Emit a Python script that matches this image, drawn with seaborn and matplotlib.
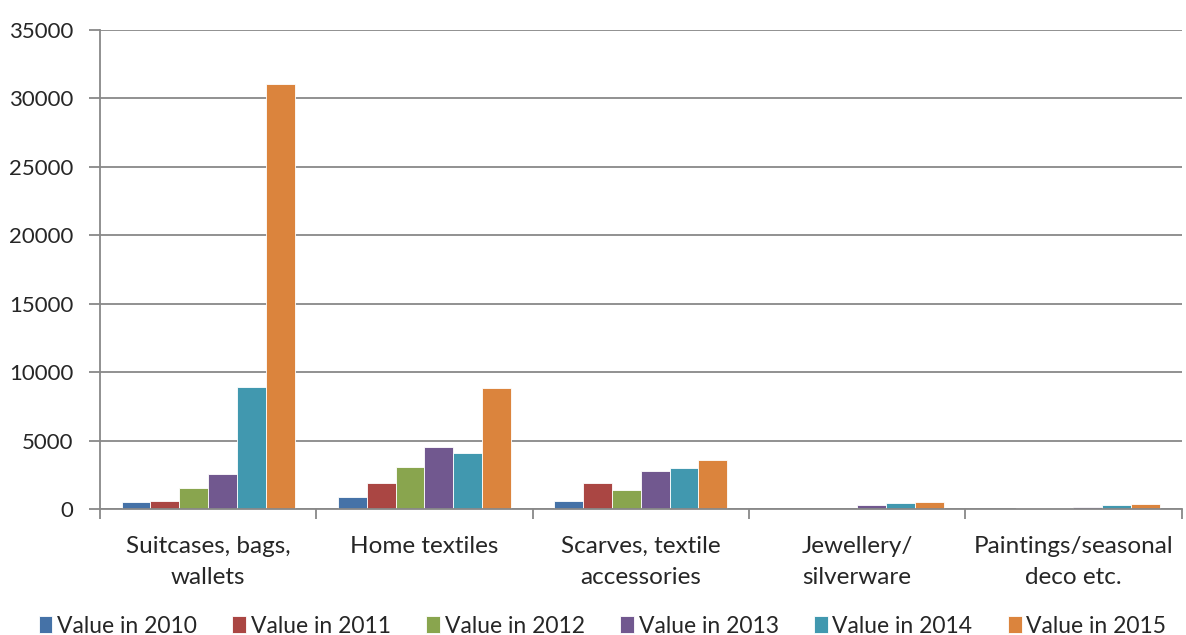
import matplotlib
matplotlib.use("Agg")
import matplotlib.pyplot as plt
import seaborn as sns
import pandas as pd
import numpy as np

categories = ["Suitcases, bags,\nwallets", "Home textiles", "Scarves, textile\naccessories",
              "Jewellery/\nsilverware", "Paintings/seasonal\ndeco etc."]
series_names = ["Value in 2010", "Value in 2011", "Value in 2012", "Value in 2013",
                "Value in 2014", "Value in 2015"]
v2010 = [510, 900, 640, 0, 0]
v2011 = [600, 1900, 1950, 0, 120]
v2012 = [1530, 3070, 1390, 10, 70]
v2013 = [2610, 4580, 2830, 340, 200]
v2014 = [8900, 4090, 3000, 490, 340]
v2015 = [31060, 8840, 3630, 510, 420]
colors = ["#4572A7", "#AA4643", "#89A54E", "#71588F", "#4198AF", "#DB843D"]

rows = []
for name, vals in zip(series_names, [v2010, v2011, v2012, v2013, v2014, v2015]):
    for c, v in zip(categories, vals):
        rows.append({"category": c, "series": name, "value": v})
df = pd.DataFrame(rows)

sns.set_style("white")
plt.rcParams['font.family'] = ['Lato', 'DejaVu Sans']

fig = plt.figure(figsize=(11.86, 6.35), dpi=100)
ax = fig.add_axes([0.0843, 0.198, 0.912, 0.755])
sns.barplot(data=df, x="category", y="value", hue="series", palette=colors,
            width=0.8, gap=0, ax=ax, edgecolor="white", linewidth=0.6, saturation=1)

ax.set_ylim(0, 35000)
ax.set_yticks(np.arange(0, 35001, 5000))
ax.set_xlim(-0.5, len(categories) - 0.5)
ax.yaxis.grid(True, color="#888888", linewidth=1.3)
ax.set_axisbelow(True)
for s in ["top", "right"]:
    ax.spines[s].set_visible(False)
for s in ["left", "bottom"]:
    ax.spines[s].set_color("#888888")
    ax.spines[s].set_linewidth(1.3)
ax.set_xlabel("")
ax.set_ylabel("")
ax.tick_params(axis="y", labelsize=16, length=8, color="#888888", width=1.3, left=True, pad=11)
ax.tick_params(axis="x", which="major", labelsize=17.5, length=0, pad=19)
ax.set_xticks(np.arange(-0.5, len(categories)), minor=True)
ax.tick_params(axis="x", which="minor", length=7, color="#888888", width=1.3, bottom=True)
for t in ax.get_xticklabels():
    t.set_linespacing(1.6)

handles, labels = ax.get_legend_handles_labels()
ax.legend_.remove()
fig.legend(handles, labels, loc="lower center", ncol=6, frameon=False, fontsize=16.5,
           bbox_to_anchor=(0.508, -0.035), handlelength=0.6, handleheight=0.8,
           handletextpad=0.2, columnspacing=1.55)

fig.savefig("out.png", dpi=100)
